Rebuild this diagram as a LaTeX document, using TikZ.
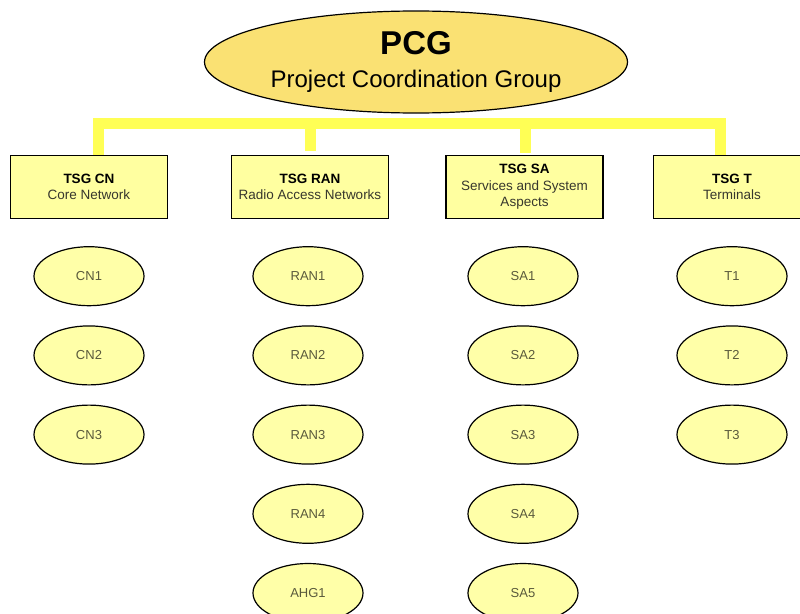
\documentclass[tikz,border=0pt]{standalone}
\usepackage{fontspec}
\setmainfont{Liberation Sans}
\usepackage{tikz}
\usetikzlibrary{positioning, shapes.geometric, backgrounds}
\definecolor{pcgfill}{RGB}{250,225,115}
\definecolor{boxfill}{RGB}{255,255,160}
\definecolor{wgfill}{RGB}{255,255,168}
\definecolor{barcol}{RGB}{255,255,85}
\definecolor{subtext}{RGB}{55,55,45}
\definecolor{wgtext}{RGB}{90,90,60}

\begin{document}
\begin{tikzpicture}[
    x=1pt, y=-1pt,
    node distance=19pt,
    pcg/.style={ellipse, draw, line width=1.2pt, fill=pcgfill, minimum width=423pt, minimum height=102pt, inner sep=0pt, align=center, font=\fontsize{24}{33}\selectfont},
    tsg/.style={rectangle, draw, line width=1.2pt, fill=boxfill, minimum width=157pt, minimum height=63pt, align=center, font=\fontsize{13.5}{16.5}\selectfont},
    wg/.style={ellipse, draw, line width=1.2pt, fill=wgfill, minimum width=110pt, minimum height=59pt, text=wgtext, font=\fontsize{13}{15}\selectfont},
    bar/.style={line width=11pt, barcol}
]
\useasboundingbox (0,0) rectangle (800,613);

% Nodes
\node[pcg] (PCG) at (416,62) {{\fontsize{33}{33}\selectfont\bfseries PCG}\\Project Coordination Group};

\node[tsg] (CN) at (89,187) {\textbf{TSG CN}\\\textcolor{subtext}{Core Network}};
\node[tsg] (RAN) at (310,187) {\textbf{TSG RAN}\\\textcolor{subtext}{Radio Access Networks}};
\node[tsg] (SA) at (524.5,187) {\textbf{TSG SA}\\\textcolor{subtext}{Services and System}\\\textcolor{subtext}{Aspects}};
\node[tsg] (T) at (732,187) {\textbf{TSG T}\\\textcolor{subtext}{Terminals}};

% Working groups
\node[wg, below=27pt of CN] (CN1) {CN1};
\node[wg, below=of CN1] (CN2) {CN2};
\node[wg, below=of CN2] (CN3) {CN3};

\node[wg, below=27pt of RAN, xshift=-2pt] (RAN1) {RAN1};
\node[wg, below=of RAN1] (RAN2) {RAN2};
\node[wg, below=of RAN2] (RAN3) {RAN3};
\node[wg, below=of RAN3] (RAN4) {RAN4};
\node[wg, below=of RAN4] (AHG1) {AHG1};

\node[wg, below=27pt of SA, xshift=-1.5pt] (SA1) {SA1};
\node[wg, below=of SA1] (SA2) {SA2};
\node[wg, below=of SA2] (SA3) {SA3};
\node[wg, below=of SA3] (SA4) {SA4};
\node[wg, below=of SA4] (SA5) {SA5};

\node[wg, below=27pt of T] (T1) {T1};
\node[wg, below=of T1] (T2) {T2};
\node[wg, below=of T2] (T3) {T3};

% Bar from the PCG to the TSGs
\begin{scope}[on background layer]
\draw[bar] ([xshift=9pt]CN.north) -- ++(0,-31) -| ([xshift=-12pt]T.north);
\draw[bar, shorten <=4pt] (RAN.north) -- ++(0,-31);
\draw[bar, shorten <=2pt] ([xshift=1pt]SA.north) -- ++(0,-31);
\end{scope}

\end{tikzpicture}
\end{document}
